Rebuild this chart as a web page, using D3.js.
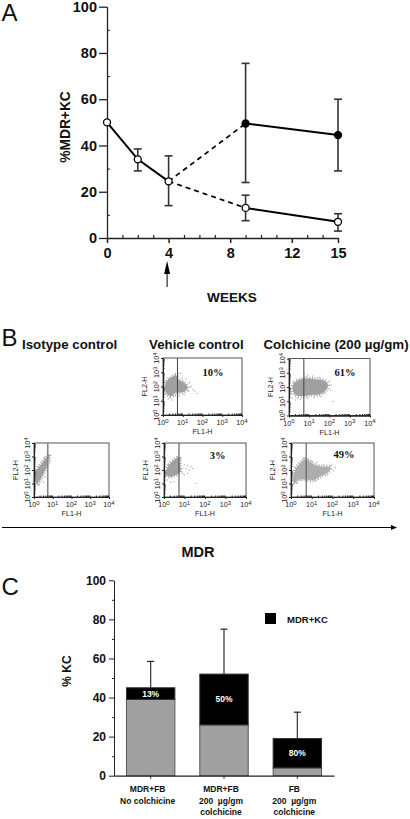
<!DOCTYPE html>
<html>
<head>
<meta charset="utf-8">
<script src="https://cdn.jsdelivr.net/npm/d3@7"></script>
<style>
html, body { margin: 0; padding: 0; background: #fff; }
svg { display: block; font-family: "Liberation Sans", Arimo, sans-serif; }
.axis path, .axis line { stroke: #222; fill: none; }
.axis text { fill: #111; font-weight: bold; font-family: "Liberation Sans", sans-serif; }
.bold { font-weight: bold; fill: #111; }
.flowtick { font-size: 7.2px; fill: #222; }
</style>
</head>
<body>
<svg width="410" height="819"></svg>
<script>
// panel A - time course
var weeksLabels = [0, 4, 8, 12, 15];
var weeksMinor = [1, 2, 3, 5, 6, 7, 9, 10, 11, 13, 14];
var earlyWeeks = [0, 2, 4];
var earlyValues = [50, 34, 24.5];
var laterWeeks = [9, 15];
var treatedValues = [49.5, 44.5];
var vehicleValues = [13, 7];
// [week, low, high]
var errorsA = [[2, 29, 38.5], [4, 14, 35.5], [9, 24, 75.5], [15, 29, 60], [9, 7.5, 18.5], [15, 3, 10.5]];
var percentTicks = [0, 20, 40, 60, 80, 100];
var percentMinor = [10, 30, 50, 70, 90];

// panel C - stacked bars
var barGroups = ["a", "b", "c"];
var barGrey = [39, 26, 4];
var barBlack = [6, 26, 15];
var barError = [58.5, 75, 32.5];
var barPercent = ["13%", "50%", "80%"];
var barLabels = [["MDR+FB", "No colchicine"], ["MDR+FB", "200  \u00b5g/gm", "colchicine"], ["FB", "200  \u00b5g/gm", "colchicine"]];

// panel B - flow plots, cloud outlines and stray events, in log10 decades
var isotypeCloud = [[.05,1.63],[.14,2],[.41,2.49],[.68,2.99],[.82,3.16],[.77,2.74],[.68,2.25],[.5,1.75],[.32,1.26],[.14,.94],[.04,1.14]];
var isotypeStray = [[.54,2.91],[.86,2.62],[.29,.94],[.5,1.09],[.71,2.12],[.02,2],[.6,1.5]];
var vehTopCloud = [[.09,1.9],[.18,2.37],[.45,2.67],[.66,2.81],[.77,2.49],[1.07,2.26],[1.25,1.9],[.98,1.6],[.63,1.56],[.45,1.33],[.23,1.44]];
var vehTopStray = [[.77,2.95],[.89,2.91],[.98,2.6],[1.16,2.53],[1.34,2.26],[1.43,2.02],[1.52,1.79],[1.61,1.67],[1.73,1.51],[1.3,1.67],[1.07,1.44],[.27,1.14],[.45,1.05],[.36,1.21],[.8,1.33],[.63,1.37]];
var vehBotCloud = [[.12,2],[.25,2.37],[.49,2.74],[.74,2.91],[.77,2.37],[.82,2],[.71,1.75],[.49,1.58],[.28,1.51],[.12,1.63]];
var vehBotStray = [[.82,2.49],[.99,2.42],[1.15,2.32],[1.32,2.25],[1.24,2],[1.07,2.12],[.91,1.75],[1.15,1.75],[.99,1.63],[.87,2.12],[1.4,2.12],[.16,1.26],[.33,1.09],[.49,1.14],[.08,1.14],[1.57,1.01],[.82,2.81]];
var colTopCloud = [[.17,1.91],[.28,2.3],[.58,2.53],[.92,2.6],[1.33,2.53],[1.75,2.44],[1.92,2.14],[1.83,1.79],[1.5,1.49],[1.08,1.44],[.67,1.37],[.33,1.44]];
var colTopStray = [[.75,2.91],[.92,2.84],[1.17,2.77],[1.5,2.67],[2,2.44],[2.08,2.14],[2.05,1.79],[.17,1.21],[.33,1.09],[.58,1.14],[.92,1.21],[1.25,1.28],[2.17,.98],[1.72,1.56],[.12,1.56],[1.58,1.33],[.83,2.72],[.42,1.21]];
var colBotCloud = [[.11,1.51],[.23,2.12],[.44,2.49],[.68,2.81],[.92,2.62],[1.16,2.37],[1.48,2.25],[1.89,2.2],[1.81,1.88],[1.4,1.51],[1.08,1.26],[.68,1.3],[.35,1.28],[.19,1],[.1,1.14]];
var colBotStray = [[.6,2.91],[.76,2.81],[1,2.67],[1.24,2.57],[1.56,2.42],[1.97,2.37],[2.13,2.17],[2.05,1.93],[1.73,1.63],[1.32,1.33],[.92,1.14],[.11,.94],[.27,1.06],[.44,1.26],[.68,1.33],[1.16,1.19],[1.81,2]];
var flowDecades = [0, 1, 2, 3, 4];
var gateValue = 5.4;

var svg = d3.select("svg");

svg.append("defs").append("filter").attr("id", "soft")
  .append("feGaussianBlur").attr("stdDeviation", 0.5);

// ---------- panel A ----------
var xA = d3.scaleLinear().domain([0, 15]).range([107, 338]),
yA = d3.scaleLinear().domain([0, 100]).range([238, 6.7]);

var axisXA = svg.append("g")
  .attr("class", "axis")
  .attr("transform", "translate(0," + yA(0) + ")")
  .call(d3.axisBottom(xA).tickValues(weeksLabels).tickSize(5).tickSizeOuter(0).tickPadding(5));
axisXA.selectAll("text").style("font-size", "14.5px");
axisXA.selectAll("path, line").style("stroke-width", 1.5);

svg.append("g")
  .attr("class", "axis")
  .attr("transform", "translate(0," + yA(0) + ")")
  .call(d3.axisTop(xA).tickValues(weeksMinor).tickSize(3).tickSizeOuter(0).tickFormat(""))
  .selectAll("path, line").style("stroke-width", 1.2);

var axisYA = svg.append("g")
  .attr("class", "axis")
  .attr("transform", "translate(" + xA(0) + ",0)")
  .call(d3.axisLeft(yA).tickValues(percentTicks).tickSize(8).tickSizeOuter(0).tickPadding(2));
axisYA.selectAll("text").style("font-size", "14.5px");
axisYA.selectAll("path, line").style("stroke-width", 1.3);

svg.append("g")
  .attr("class", "axis")
  .attr("transform", "translate(" + xA(0) + ",0)")
  .call(d3.axisRight(yA).tickValues(percentMinor).tickSize(3).tickSizeOuter(0).tickFormat(""));

// error bars
var errA = svg.append("g").selectAll("g").data(errorsA).enter().append("g")
  .attr("stroke", "#333").attr("stroke-width", 1.6);
errA.append("line")
  .attr("x1", function(d) { return xA(d[0]); }).attr("x2", function(d) { return xA(d[0]); })
  .attr("y1", function(d) { return yA(d[1]); }).attr("y2", function(d) { return yA(d[2]); });
errA.append("line")
  .attr("x1", function(d) { return xA(d[0]) - 4; }).attr("x2", function(d) { return xA(d[0]) + 4; })
  .attr("y1", function(d) { return yA(d[1]); }).attr("y2", function(d) { return yA(d[1]); });
errA.append("line")
  .attr("x1", function(d) { return xA(d[0]) - 4; }).attr("x2", function(d) { return xA(d[0]) + 4; })
  .attr("y1", function(d) { return yA(d[2]); }).attr("y2", function(d) { return yA(d[2]); });

// lines
var lineA = d3.line().x(function(d) { return xA(d[0]); }).y(function(d) { return yA(d[1]); });
var early = earlyWeeks.map(function(w, i) { return [w, earlyValues[i]]; });
var treated = laterWeeks.map(function(w, i) { return [w, treatedValues[i]]; });
var vehicle = laterWeeks.map(function(w, i) { return [w, vehicleValues[i]]; });
var last = early[early.length - 1];

[early, treated, vehicle].forEach(function(s) {
  svg.append("path").attr("d", lineA(s)).attr("fill", "none").attr("stroke", "#000").attr("stroke-width", 2);
});
[treated[0], vehicle[0]].forEach(function(p) {
  svg.append("path").attr("d", lineA([last, p])).attr("fill", "none")
    .attr("stroke", "#000").attr("stroke-width", 1.7).attr("stroke-dasharray", "5,4");
});

function points(data, fill) {
  svg.append("g").selectAll("circle").data(data).enter().append("circle")
    .attr("cx", function(d) { return xA(d[0]); })
    .attr("cy", function(d) { return yA(d[1]); })
    .attr("r", 3.5)
    .attr("fill", fill).attr("stroke", "#000").attr("stroke-width", 1.3);
}
points(early.concat(vehicle), "#fff");
points(treated, "#000");

svg.append("text").attr("class", "bold").attr("x", 232).attr("y", 301.5)
  .attr("text-anchor", "middle").style("font-size", "13.6px").text("WEEKS");
svg.append("text").attr("class", "bold")
  .attr("transform", "translate(70,127) rotate(-90)")
  .attr("text-anchor", "middle").style("font-size", "13.8px").text("%MDR+KC");

// arrow under week 4
svg.append("line").attr("x1", xA(4) - 1.5).attr("x2", xA(4) - 1.5).attr("y1", 287).attr("y2", 268)
  .attr("stroke", "#000").attr("stroke-width", 1);
svg.append("path").attr("d", d3.line()([[xA(4) - 1.5, 261], [xA(4) + 1.5, 274], [xA(4) - 4.5, 274]]))
  .attr("fill", "#000");

// ---------- panel letters / headings ----------
[["A", 1.5, 20.5], ["B", 1.5, 345.5], ["C", 1.5, 595]].forEach(function(d) {
  svg.append("text").attr("x", d[1]).attr("y", d[2]).style("font-size", "24px").attr("fill", "#111").text(d[0]);
});
[["Isotype control", 22], ["Vehicle control", 149], ["Colchicine (200 \u00b5g/gm)", 263.5]].forEach(function(d) {
  svg.append("text").attr("class", "bold").attr("x", d[1]).attr("y", 349).style("font-size", "13.3px").text(d[0]);
});

// ---------- panel B ----------
function flowPlot(x0, x1, y0, y1, cloud, stray, fill, gateColor, gateWidth, label, lx, ly) {
  var x = d3.scaleLog().domain([1, 10000]).range([x0, x1]),
  y = d3.scaleLog().domain([1, 10000]).range([y1, y0]);
  var g = svg.append("g");
  var cloudLine = d3.line()
    .x(function(d) { return x(Math.pow(10, d[0])); })
    .y(function(d) { return y(Math.pow(10, d[1])); })
    .curve(d3.curveCatmullRomClosed);

  // dotted halo gives the cloud its grainy edge
  g.append("path").attr("d", cloudLine(cloud)).attr("fill", "none")
    .attr("stroke", "#a8a8a8").attr("stroke-width", 4).attr("stroke-dasharray", "1,1.6");
  g.append("path").attr("d", cloudLine(cloud)).attr("fill", fill).attr("filter", "url(#soft)");
  g.selectAll("circle").data(stray).enter().append("circle")
    .attr("cx", function(d) { return x(Math.pow(10, d[0])); })
    .attr("cy", function(d) { return y(Math.pow(10, d[1])); })
    .attr("r", 0.7).attr("fill", "#aaa");

  g.append("rect").attr("x", x0).attr("y", y0).attr("width", x1 - x0).attr("height", y1 - y0)
    .attr("fill", "none").attr("stroke", "#555");
  g.append("line").attr("x1", x(gateValue)).attr("x2", x(gateValue)).attr("y1", y0).attr("y2", y1)
    .attr("stroke", gateColor).attr("stroke-width", gateWidth);

  // every decade gets 2..9 minor ticks
  var minor = [];
  flowDecades.slice(0, 4).forEach(function(e) {
    d3.range(2, 10).forEach(function(m) { minor.push(m * Math.pow(10, e)); });
  });
  var major = flowDecades.map(function(e) { return Math.pow(10, e); });

  var ax = g.append("g").attr("class", "axis").attr("transform", "translate(0," + y1 + ")");
  ax.call(d3.axisBottom(x).tickValues(major).tickSize(2).tickSizeOuter(0).tickFormat(""));
  ax.append("g").call(d3.axisTop(x).tickValues(minor).tickSize(1.5).tickSizeOuter(0).tickFormat(""));
  var ay = g.append("g").attr("class", "axis").attr("transform", "translate(" + x0 + ",0)");
  ay.call(d3.axisLeft(y).tickValues(major).tickSize(2).tickSizeOuter(0).tickFormat(""));
  ay.append("g").call(d3.axisRight(y).tickValues(minor).tickSize(1.5).tickSizeOuter(0).tickFormat(""));

  flowDecades.forEach(function(e) {
    var t = g.append("text").attr("class", "flowtick").attr("text-anchor", "middle")
      .attr("x", x(major[e])).attr("y", y1 + 10);
    t.append("tspan").text("10");
    t.append("tspan").attr("dy", -2.5).style("font-size", "6px").text(e);
    var r = g.append("text").attr("class", "flowtick").attr("text-anchor", "middle")
      .attr("transform", "translate(" + (x0 - 4) + "," + y(major[e]) + ") rotate(-90)");
    r.append("tspan").text("10");
    r.append("tspan").attr("dy", -2.5).style("font-size", "6px").text(e);
  });

  g.append("text").attr("class", "flowtick").attr("text-anchor", "middle")
    .attr("x", (x0 + x1) / 2).attr("y", y1 + 19).text("FL1-H");
  g.append("text").attr("class", "flowtick").attr("text-anchor", "middle")
    .attr("transform", "translate(" + (x0 - 16) + "," + ((y0 + y1) / 2) + ") rotate(-90)").text("FL2-H");

  if (label) {
    g.append("text").attr("x", lx).attr("y", ly).attr("text-anchor", "middle")
      .style("font-family", '"Liberation Serif", serif').style("font-weight", "bold").style("font-size", "10.5px")
      .attr("fill", "#111").text(label);
  }
}

flowPlot(34, 109, 443, 497, isotypeCloud, isotypeStray, "#a0a0a0", "#888", 1.6);
flowPlot(163, 242, 358, 415, vehTopCloud, vehTopStray, "#a0a0a0", "#444", 1, "10%", 213, 375.5);
flowPlot(164, 246, 443, 497, vehBotCloud, vehBotStray, "#a0a0a0", "#444", 1, "3%", 217.5, 458.5);
flowPlot(289, 370, 358.5, 415.5, colTopCloud, colTopStray, "#a0a0a0", "#444", 1, "61%", 345, 375.5);
flowPlot(291, 374, 443, 497, colBotCloud, colBotStray, "#adadad", "#666", 1.2, "49%", 344, 457.5);

// long MDR arrow
svg.append("line").attr("x1", 2).attr("x2", 392).attr("y1", 527.5).attr("y2", 527.5)
  .attr("stroke", "#000").attr("stroke-width", 1);
svg.append("path").attr("d", d3.line()([[397, 527.5], [391, 525], [391, 530]])).attr("fill", "#000");
svg.append("text").attr("class", "bold").attr("x", 198).attr("y", 556.5)
  .attr("text-anchor", "middle").style("font-size", "14.5px").text("MDR");

// ---------- panel C ----------
var xC = d3.scaleBand().domain(barGroups).range([114, 334]).paddingInner(0.34).paddingOuter(0.17),
yC = d3.scaleLinear().domain([0, 100]).range([775.7, 580.3]);

var axisYC = svg.append("g")
  .attr("class", "axis")
  .attr("transform", "translate(" + 114 + ",0)")
  .call(d3.axisLeft(yC).tickValues(percentTicks).tickSize(5).tickSizeOuter(0).tickPadding(3));
axisYC.selectAll("text").style("font-size", "12px");
svg.append("g")
  .attr("class", "axis")
  .attr("transform", "translate(" + 114 + ",0)")
  .call(d3.axisLeft(yC).tickValues(percentMinor).tickSize(2).tickSizeOuter(0).tickFormat(""));

var bars = svg.append("g").selectAll("g").data(barGroups).enter().append("g");

// error bar sits behind the stack
bars.append("line")
  .attr("x1", function(d) { return xC(d) + xC.bandwidth() / 2; })
  .attr("x2", function(d) { return xC(d) + xC.bandwidth() / 2; })
  .attr("y1", function(d, i) { return yC(barGrey[i] + barBlack[i]); })
  .attr("y2", function(d, i) { return yC(barError[i]); })
  .attr("stroke", "#333").attr("stroke-width", 1.2);
bars.append("line")
  .attr("x1", function(d) { return xC(d) + xC.bandwidth() / 2 - 3.5; })
  .attr("x2", function(d) { return xC(d) + xC.bandwidth() / 2 + 3.5; })
  .attr("y1", function(d, i) { return yC(barError[i]); })
  .attr("y2", function(d, i) { return yC(barError[i]); })
  .attr("stroke", "#222").attr("stroke-width", 1.2);

bars.append("rect")
  .attr("x", function(d) { return xC(d); })
  .attr("width", xC.bandwidth())
  .attr("y", function(d, i) { return yC(barGrey[i]); })
  .attr("height", function(d, i) { return yC(0) - yC(barGrey[i]); })
  .attr("fill", "#a0a0a0").attr("stroke", "#555");
bars.append("rect")
  .attr("x", function(d) { return xC(d); })
  .attr("width", xC.bandwidth())
  .attr("y", function(d, i) { return yC(barGrey[i] + barBlack[i]); })
  .attr("height", function(d, i) { return yC(barGrey[i]) - yC(barGrey[i] + barBlack[i]); })
  .attr("fill", "#000").attr("stroke", "#333");
bars.append("text")
  .attr("x", function(d) { return xC(d) + xC.bandwidth() / 2; })
  .attr("y", function(d, i) { return (yC(barGrey[i]) + yC(barGrey[i] + barBlack[i])) / 2 + 3; })
  .attr("text-anchor", "middle").attr("fill", "#fff")
  .style("font-size", "8.5px").style("font-weight", "bold")
  .text(function(d, i) { return barPercent[i]; });

var axisXC = svg.append("g")
  .attr("class", "axis")
  .attr("transform", "translate(0," + yC(0) + ")")
  .call(d3.axisBottom(xC).tickSize(3).tickSizeOuter(0).tickFormat(""));
axisXC.select("path").style("stroke-width", 1.2);

bars.each(function(d, i) {
  var t = d3.select(this).append("text").attr("class", "bold").attr("text-anchor", "middle")
    .style("font-size", "8.5px");
  barLabels[i].forEach(function(s, j) {
    t.append("tspan")
      .attr("x", xC(d) + xC.bandwidth() / 2 - 3)
      .attr("y", yC(0) + 16.5 + j * 11.5)
      .style("white-space", "pre")
      .text(s);
  });
});

svg.append("text").attr("class", "bold")
  .attr("transform", "translate(71,671) rotate(-90)")
  .attr("text-anchor", "middle").style("font-size", "12px").text("% KC");

// legend
svg.append("rect").attr("x", 265).attr("y", 613).attr("width", 11).attr("height", 11).attr("fill", "#000");
svg.append("text").attr("class", "bold").attr("x", 287).attr("y", 622.5)
  .style("font-size", "9.5px").text("MDR+KC");
</script>
</body>
</html>
